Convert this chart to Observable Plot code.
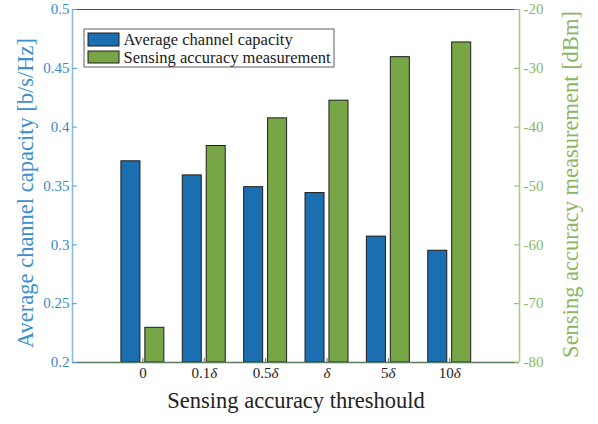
<!DOCTYPE html>
<html><head><meta charset="utf-8">
<script src="https://cdn.jsdelivr.net/npm/d3@7"></script>
<script src="https://cdn.jsdelivr.net/npm/@observablehq/plot@0.6"></script>
<style>
body{margin:0;background:#fff}
#chart svg, #chart svg text{font-family:"Liberation Serif","Times New Roman",serif}
</style>
</head><body><div id="chart"></div>
<script>
// ---- data ----
const thresholds = ["0", "0.1δ", "0.5δ", "δ", "5δ", "10δ"];
const capacity = [0.371, 0.359, 0.349, 0.344, 0.307, 0.295];      // b/s/Hz
const sensing = [-74.1, -43.2, -38.5, -35.5, -28.1, -25.6];       // dBm
const capTicks = [0.2, 0.25, 0.3, 0.35, 0.4, 0.45, 0.5];
const dbmTicks = [-80, -70, -60, -50, -40, -30, -20];
const seriesNames = ["Average channel capacity", "Sensing accuracy measurement"];
const xTitle = "Sensing accuracy threshould";
const yLeftTitle = "Average channel capacity [b/s/Hz]";
const yRightTitle = "Sensing accuracy measurement [dBm]";

// ---- styling ----
const serif = "'Liberation Serif','Times New Roman',serif";
const blue = "#1b6fb1", green = "#78a545";
const capDomain = [0.2, 0.5], dbmDomain = [-80, -20];
const xDomain = [-1.147, 6.137];
const toCap = v => capDomain[0] + (v - dbmDomain[0]) / (dbmDomain[1] - dbmDomain[0]) * (capDomain[1] - capDomain[0]);
const fromCap = v => dbmDomain[0] + (v - capDomain[0]) / (capDomain[1] - capDomain[0]) * (dbmDomain[1] - dbmDomain[0]);

const rows = thresholds.map((t, i) => ({i, t, cap: capacity[i], sen: sensing[i], senMapped: toCap(sensing[i])}));
const bw = 0.31, gap = 0.04;

const svg = Plot.plot({
  width: 598, height: 424,
  marginLeft: 72, marginRight: 79, marginTop: 9, marginBottom: 62,
  style: {fontFamily: serif, fontSize: "15px", background: "#fff"},
  x: {type: "linear", domain: xDomain, axis: null},
  y: {type: "linear", domain: capDomain, axis: null},
  marks: [
    Plot.rectY(rows, {x1: d => d.i - gap - bw, x2: d => d.i - gap, y1: capDomain[0], y2: "cap", fill: blue, stroke: "#1e1e1e", strokeWidth: 1}),
    Plot.rectY(rows, {x1: d => d.i + gap, x2: d => d.i + gap + bw, y1: capDomain[0], y2: "senMapped", fill: green, stroke: "#1e1e1e", strokeWidth: 1}),
    // box lines
    Plot.ruleY([capDomain[1]], {stroke: "#4d4d4d", strokeWidth: 1}),
    Plot.ruleY([capDomain[0]], {stroke: "#5b7a63", strokeWidth: 1.6}),
    Plot.ruleX([xDomain[0]], {stroke: "#8dbce2", strokeWidth: 1.6}),
    Plot.ruleX([xDomain[1]], {stroke: "#a9cb8c", strokeWidth: 1.6}),
    // inward ticks
    Plot.tickY(capTicks, {y: d => d, insetRight: 442, stroke: "#5a9bd4"}),
    Plot.tickY(dbmTicks.map(toCap), {y: d => d, insetLeft: 442, stroke: "#8cb766"}),
    Plot.tickX(d3.range(thresholds.length), {x: d => d, insetTop: 349, stroke: "#666"}),
    // axes labels
    Plot.axisY(capTicks, {anchor: "left", tickSize: 0, tickPadding: 3, fill: "#3a8bcc", fontSize: 15, fontFamily: serif, tickFormat: d => String(d)}),
    Plot.axisY(dbmTicks.map(toCap), {anchor: "right", tickSize: 0, tickPadding: 4, fill: "#8cb663", fontSize: 15, fontFamily: serif, tickFormat: d => String(Math.round(fromCap(d)))}),
    Plot.axisX(d3.range(thresholds.length), {anchor: "bottom", tickSize: 0, tickPadding: 5, fill: "#222", fontSize: 15, fontFamily: serif, tickFormat: i => thresholds[i]}),
    // titles
    Plot.text([xTitle], {text: d => d, frameAnchor: "bottom", textAnchor: "middle", lineAnchor: "middle", dy: 38.5, fontSize: 22.5, fontFamily: serif, fill: "#222"}),
    Plot.text([yLeftTitle], {text: d => d, frameAnchor: "left", textAnchor: "middle", lineAnchor: "middle", rotate: -90, dx: -47, dy: 7, fontSize: 22.5, fontFamily: serif, fill: "#3b8fd0"}),
    Plot.text([yRightTitle], {text: d => d, frameAnchor: "right", textAnchor: "middle", lineAnchor: "middle", rotate: -90, dx: 51, dy: -1.5, fontSize: 22.5, fontFamily: serif, fill: "#8cb663"}),
    // legend
    Plot.rect([0], {insetLeft: 12, insetRight: 185, insetTop: 20, insetBottom: 295, fill: "#fff", stroke: "#7a7a7a", strokeWidth: 1.2}),
    Plot.rect([0], {insetLeft: 16, insetRight: 400, insetTop: 24, insetBottom: 316, fill: blue, stroke: "#1e1e1e"}),
    Plot.rect([0], {insetLeft: 16, insetRight: 400, insetTop: 42, insetBottom: 299, fill: green, stroke: "#1e1e1e"}),
    Plot.text([seriesNames[0]], {text: d => d, frameAnchor: "top-left", textAnchor: "start", lineAnchor: "middle", dx: 51, dy: 30.5, fontSize: 16.5, fontFamily: serif, fill: "#1a1a1a"}),
    Plot.text([seriesNames[1]], {text: d => d, frameAnchor: "top-left", textAnchor: "start", lineAnchor: "middle", dx: 51, dy: 48, fontSize: 16.5, fontFamily: serif, fill: "#1a1a1a"})
  ]
});

// italic delta in x tick labels
d3.select(svg).selectAll('g[aria-label="x-axis tick label"] text').each(function () {
  const t = this.textContent;
  if (t.includes("δ")) {
    const parts = t.split("δ");
    this.textContent = "";
    d3.select(this).append("tspan").text(parts[0]);
    d3.select(this).append("tspan").attr("font-style", "italic").text("δ");
  }
});

document.getElementById("chart").append(svg);
</script>
</body></html>
